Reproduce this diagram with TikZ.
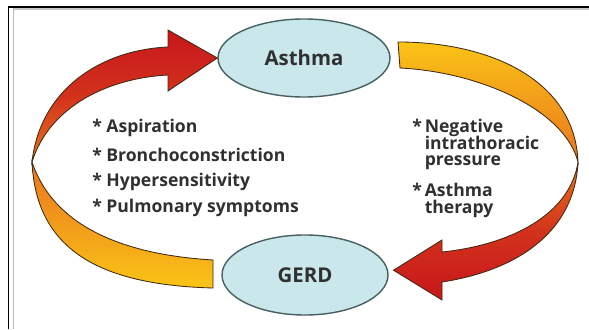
\documentclass[tikz,border=0pt]{standalone}
\usepackage{fontspec}
\setmainfont{Open Sans}
\usepackage{tikz}
\usetikzlibrary{shapes.geometric, positioning, calc}
\definecolor{myred}{RGB}{200,22,28}
\definecolor{myorange}{RGB}{234,116,30}
\definecolor{myyellow}{RGB}{250,196,22}
\definecolor{mycyan}{RGB}{202,231,235}
\definecolor{myedge}{RGB}{72,96,96}
\definecolor{mytext}{RGB}{48,48,48}
\definecolor{myband}{RGB}{62,42,18}
\tikzset{
  disease/.style={ellipse, draw=myedge, fill=mycyan, line width=1pt, inner sep=0pt,
    font=\fontsize{14.5}{16}\selectfont\bfseries\color{mytext}},
  band/.style={draw=myband, line width=0.6pt},
  item/.style={anchor=west, align=left, inner sep=0pt,
    font=\fontsize{12.5}{12.5}\selectfont\bfseries\color{mytext}},
  frame/.style={line width=0.8pt}
}

\begin{document}
\begin{tikzpicture}
\useasboundingbox (0,0) rectangle (14.725,8.225);
%--- frame ---
\draw[frame] (0.2,8.05) -- (14.725,8.05);
\draw[frame,gray!45] (0.33,8.0) -- (14.725,8.0);
\draw[frame] (0.21,8.05) -- (0.21,0);
\draw[frame,gray!55] (0.33,8.0) -- (0.33,0);

%--- diseases ---
\node[disease, minimum width=4.3cm, minimum height=1.95cm] (asthma) at (7.6,6.775) {Asthma};
\node[disease, minimum width=4.15cm, minimum height=2.0cm] (gerd) at (7.625,1.35) {GERD};
\coordinate (lmeet) at (0.8,4.175);
\coordinate (rmeet) at (14.45,4.175);

%--- GERD -> Asthma (left) ---
\draw[band, top color=myred, bottom color=myorange, middle color=myred!70!myorange]
  (lmeet) .. controls (1.0,5.975) and (2.5,6.975) .. (4.2,7.05)
  -- (4.2,7.475) -- (asthma.west) -- (4.2,5.95) -- (4.2,6.35)
  .. controls (2.75,6.275) and (1.25,5.6) .. (lmeet) -- cycle;
\draw[band, top color=myorange, bottom color=myyellow]
  (lmeet) .. controls (0.9,1.975) and (2.5,1.1) .. (5.325,1.025)
  -- (5.325,1.725) .. controls (3.25,1.85) and (1.375,2.475) .. (lmeet) -- cycle;

%--- Asthma -> GERD (right) ---
\draw[band, top color=myyellow, bottom color=myorange]
  (9.95,7.175) .. controls (12.25,7.175) and (14.375,6.225) .. (rmeet)
  .. controls (14.125,5.475) and (12.0,6.425) .. (10.0,6.525) -- cycle;
\draw[band, top color=myorange, bottom color=myred, middle color=myred!70!myorange]
  (rmeet) .. controls (14.25,2.85) and (12.75,2.1) .. (11.05,1.925)
  -- (11.05,2.225) -- ($(gerd.east)+(0.12,0.12)$) -- (11.05,0.725) -- (11.05,1.175)
  .. controls (13.0,1.475) and (14.375,2.475) .. (rmeet) -- cycle;

%--- mechanisms ---
\foreach \i/\y/\t in {1/5.025/Aspiration, 2/4.35/Bronchoconstriction,
                      3/3.675/Hypersensitivity, 4/3.025/Pulmonary symptoms}
  { \node[item] (left\i) at (2.3,\y) {* \t}; }
\node[item] (neg) at (10.3,4.6) {\begin{tabular}{@{}l@{\,}l@{}}* & Negative\\[-1pt] & intrathoracic\\[-1pt] & pressure\end{tabular}};
\node[item] (ther) at (10.3,3.2) {\begin{tabular}{@{}l@{\,}l@{}}* & Asthma\\[-1pt] & therapy\end{tabular}};
\end{tikzpicture}
\end{document}
